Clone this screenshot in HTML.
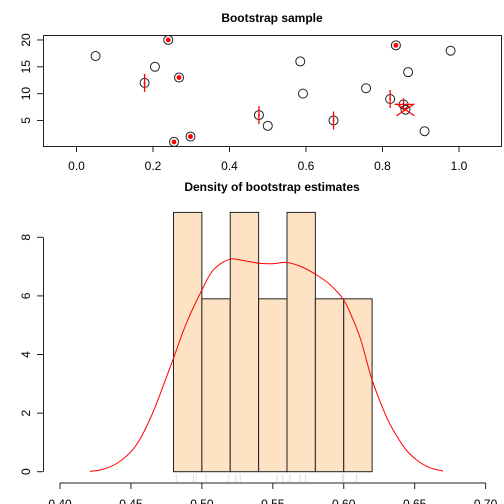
<!DOCTYPE html>
<html><head><meta charset="utf-8"><style>
body{margin:0;background:#fff}
svg{display:block;font-family:"Liberation Sans",sans-serif}
</style></head><body>
<svg id="c" width="504" height="504"></svg>
<script>
const ptX=[0.05,0.205,0.178,0.24,0.268,0.255,0.298,0.477,0.5,0.585,0.592,0.672,0.757,0.82,0.835,0.855,0.86,0.867,0.91,0.978];
const ptY=[17,15,12,20,13,1,2,6,4,16,10,5,11,9,19,8,7,14,3,18];
const ptMark=["","","v","d","d","d","d","v","","","","v","","v","d","+","x","","",""];
const topXTicks=[0,0.2,0.4,0.6,0.8,1.0];
const topYTicks=[5,10,15,20];
const binStart=[0.48,0.50,0.52,0.54,0.56,0.58,0.60];
const binDensity=[8.85,5.9,8.85,5.9,8.85,5.9,5.9];
const densX=[0.421,0.43,0.44,0.449,0.455,0.461,0.467,0.4725,0.48,0.489,0.50,0.508,0.5195,0.53,0.541,0.55,0.56,0.57,0.579,0.59,0.60,0.606,0.612,0.62,0.63,0.637,0.644,0.652,0.66,0.67];
const densY=[0.01,0.08,0.28,0.63,1.0,1.54,2.2,2.9,3.87,5.06,6.2,6.88,7.25,7.2,7.11,7.1,7.14,7.0,6.77,6.4,5.86,5.25,4.5,3.13,1.88,1.25,0.74,0.38,0.15,0.02];
const rug=[0.482,0.494,0.496,0.503,0.519,0.524,0.527,0.553,0.557,0.562,0.569,0.573,0.599,0.600,0.609];
const botXTicks=[0.40,0.45,0.50,0.55,0.60,0.65,0.70];
const botYTicks=[0,2,4,6,8];

const s=document.getElementById('c');const NS='http://www.w3.org/2000/svg';
function mk(t,a,name,txt){const e=document.createElementNS(NS,t);for(const k in a)e.setAttribute(k,a[k]);


if(txt!==undefined)e.textContent=txt;s.appendChild(e);return e;}
const tx=v=>76.5+382.5*v, ty=v=>147.3-5.367*v;
const bx=v=>60+(v-0.40)*1418.7, by=v=>471.7-29.3*v;

function smooth(xs,ys){let p=[];for(let i=0;i<xs.length;i++)p.push([bx(xs[i]),by(ys[i])]);
let d='M'+p[0][0].toFixed(1)+','+p[0][1].toFixed(1);
for(let i=0;i<p.length-1;i++){const p0=p[i-1]||p[i],p1=p[i],p2=p[i+1],p3=p[i+2]||p2;
const c1=[p1[0]+(p2[0]-p0[0])/6,p1[1]+(p2[1]-p0[1])/6],c2=[p2[0]-(p3[0]-p1[0])/6,p2[1]-(p3[1]-p1[1])/6];
d+='C'+c1.map(v=>v.toFixed(1))+' '+c2.map(v=>v.toFixed(1))+' '+p2.map(v=>v.toFixed(1));}return d;}

mk('text',{x:272,y:22,'text-anchor':'middle','font-size':12,'font-weight':'bold'},'top-title','Bootstrap sample');
mk('rect',{x:43.5,y:35.5,width:458,height:111,fill:'none',stroke:'#222'},'top-plot-box');
topXTicks.forEach(v=>{mk('line',{x1:tx(v),x2:tx(v),y1:146,y2:152,stroke:'#222'},'top-x-tick');
mk('text',{x:tx(v),y:170,'text-anchor':'middle','font-size':12},'top-x-label',v.toFixed(1));});
topYTicks.forEach(v=>{mk('line',{x1:37,x2:43,y1:ty(v),y2:ty(v),stroke:'#222'},'top-y-tick');
mk('text',{x:0,y:0,'text-anchor':'middle','font-size':12,transform:`translate(30,${ty(v)}) rotate(-90)`},'top-y-label',String(v));});
ptX.forEach((x,i)=>{const X=tx(x),Y=ty(ptY[i]);
mk('circle',{cx:X,cy:Y,r:4.5,fill:'none',stroke:'#222'},'sample-point');
const m=ptMark[i];
if(m==='d')mk('circle',{cx:X,cy:Y,r:2.4,fill:'red'},'selected-dot');
if(m==='v')mk('line',{x1:X,x2:X,y1:Y-9,y2:Y+9,stroke:'red','stroke-width':1.3},'selected-vline');
if(m==='v')mk('circle',{cx:X,cy:Y,r:1,fill:'red'},'selected-dot');
if(m==='+'){mk('line',{x1:X-9,x2:X+9,y1:Y,y2:Y,stroke:'red','stroke-width':1.3},'selected-plus');mk('line',{x1:X,x2:X,y1:Y-6,y2:Y+6,stroke:'red','stroke-width':1.3},'selected-plus');}
if(m==='x'){mk('line',{x1:X-9,x2:X+9,y1:Y-6,y2:Y+6,stroke:'red','stroke-width':1.3},'selected-x');mk('line',{x1:X-9,x2:X+9,y1:Y+6,y2:Y-6,stroke:'red','stroke-width':1.3},'selected-x');}
});

mk('text',{x:272,y:191,'text-anchor':'middle','font-size':12,'font-weight':'bold'},'bottom-title','Density of bootstrap estimates');
binStart.forEach((b,i)=>mk('rect',{x:bx(b),y:by(binDensity[i]),width:bx(b+0.02)-bx(b),height:by(0)-by(binDensity[i]),fill:'#fde3c4',stroke:'#222'},'histogram-bar'));
mk('path',{d:smooth(densX,densY),fill:'none',stroke:'red'},'density-curve');
rug.forEach(r=>mk('line',{x1:bx(r),x2:bx(r),y1:474,y2:482,stroke:'#ddd'},'rug-tick'));
mk('line',{x1:43.5,x2:43.5,y1:by(0),y2:by(8),stroke:'#222'},'bottom-y-axis');
botYTicks.forEach(v=>{mk('line',{x1:37,x2:43,y1:by(v),y2:by(v),stroke:'#222'},'bottom-y-tick');
mk('text',{x:0,y:0,'text-anchor':'middle','font-size':12,transform:`translate(30,${by(v)}) rotate(-90)`},'bottom-y-label',String(v));});
mk('line',{x1:bx(0.40),x2:bx(0.70),y1:483,y2:483,stroke:'#222'},'bottom-x-axis');
botXTicks.forEach(v=>{mk('line',{x1:bx(v),x2:bx(v),y1:483,y2:489,stroke:'#222'},'bottom-x-tick');
mk('text',{x:bx(v),y:508,'text-anchor':'middle','font-size':12},'bottom-x-label',v.toFixed(2));});
</script>
</body></html>
